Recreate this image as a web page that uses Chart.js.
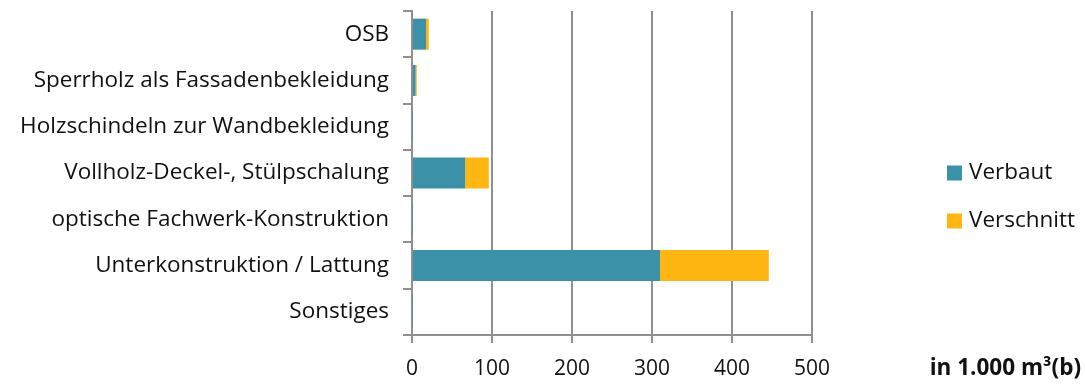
<!DOCTYPE html>
<html>
<head>
<meta charset="utf-8">
<script src="https://cdn.jsdelivr.net/npm/chart.js@4"></script>
<style>
  html, body { margin: 0; padding: 0; background: #fff; }
  #wrap { width: 1085px; height: 385px; position: relative; }
</style>
</head>
<body>
<div id="wrap"><canvas id="holzChart"></canvas></div>
<script>
// Holzprodukte in der Fassade, Mengen in 1.000 m³(b)
const categories = [
    'OSB',
    'Sperrholz als Fassadenbekleidung',
    'Holzschindeln zur Wandbekleidung',
    'Vollholz-Deckel-, Stülpschalung',
    'optische Fachwerk-Konstruktion',
    'Unterkonstruktion / Lattung',
    'Sonstiges'
];
const verbaut = [17.5, 4.5, 0.3, 66.5, 0.3, 310, 0.3];
const verschnitt = [3.5, 1.5, 0.5, 29.5, 0.5, 136, 0.5];
const xTicks = [0, 100, 200, 300, 400, 500];
const axisTitle = 'in 1.000 m³(b)';

const fontFamily = '"Open Sans", sans-serif';
const fontSize = 22.5;
const gridColor = '#8f8f8f';

// Legende und Achsentitel rechts neben dem Diagramm
const sideTexts = {
    id: 'sideTexts',
    afterDraw(chart) {
        const ctx = chart.ctx;
        ctx.save();
        ctx.textBaseline = 'middle';
        ctx.font = fontSize + 'px ' + fontFamily;
        const rows = [173, 221];
        chart.data.datasets.forEach((ds, i) => {
            ctx.fillStyle = ds.backgroundColor;
            ctx.fillRect(947, rows[i] - 7.5, 15, 15);
            ctx.fillStyle = '#111';
            ctx.textAlign = 'left';
            ctx.fillText(ds.label, 969, rows[i]);
        });
        ctx.font = 'bold ' + fontSize + 'px ' + fontFamily;
        ctx.textAlign = 'right';
        ctx.fillText(axisTitle, 1081, 369);
        ctx.restore();
    }
};

const ctx = document.getElementById('holzChart').getContext('2d');
new Chart(ctx, {
    type: 'bar',
    data: {
        labels: categories,
        datasets: [
            { label: 'Verbaut', data: verbaut, backgroundColor: '#3b91a7', barPercentage: 0.67, categoryPercentage: 1 },
            { label: 'Verschnitt', data: verschnitt, backgroundColor: '#ffb612', barPercentage: 0.67, categoryPercentage: 1 }
        ]
    },
    options: {
        indexAxis: 'y',
        responsive: true,
        maintainAspectRatio: false,
        animation: false,
        layout: { padding: { top: 11, right: 273, bottom: 0, left: 0 } },
        plugins: {
            legend: { display: false },
            tooltip: { enabled: false }
        },
        scales: {
            x: {
                stacked: true,
                min: 0,
                max: 500,
                afterBuildTicks: (scale) => { scale.ticks = xTicks.map(v => ({ value: v })); },
                afterFit: (scale) => { scale.height = 50; },
                grid: { color: gridColor, lineWidth: 2, tickLength: 8 },
                border: { color: gridColor, width: 2 },
                ticks: { color: '#111', font: { family: fontFamily, size: 21 }, padding: 13 }
            },
            y: {
                stacked: true,
                afterFit: (scale) => {
                    scale.width = 412;
                    scale.paddingTop = 0;
                    scale.paddingBottom = 0;
                },
                grid: { drawOnChartArea: false, color: gridColor, lineWidth: 2, tickLength: 9 },
                border: { color: gridColor, width: 2 },
                ticks: { color: '#111', font: { family: fontFamily, size: fontSize }, padding: 14 }
            }
        }
    },
    plugins: [sideTexts]
});
</script>
</body>
</html>
